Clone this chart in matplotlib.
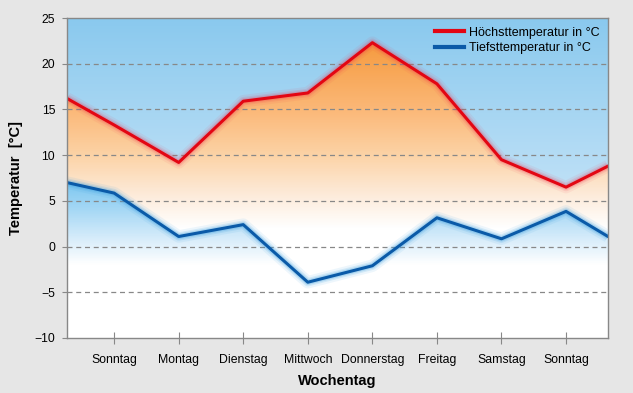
import numpy as np
import matplotlib
matplotlib.use("Agg")
import matplotlib.pyplot as plt
from matplotlib.colors import LinearSegmentedColormap
from matplotlib.patches import Polygon

plt.rcParams['font.family'] = ['Liberation Sans', 'DejaVu Sans']

# Daten
tage = ['Sonntag', 'Montag', 'Dienstag', 'Mittwoch', 'Donnerstag', 'Freitag', 'Samstag', 'Sonntag']
x_pos = [-0.73, 0, 1, 2, 3, 4, 5, 6, 7, 7.65]   # Randpunkte links/rechts abgeschnitten
hoechst = [16.2, 13.3, 9.2, 15.9, 16.8, 22.3, 17.8, 9.5, 6.5, 8.8]
tiefst = [7.0, 5.85, 1.1, 2.4, -3.9, -2.1, 3.15, 0.85, 3.85, 1.1]

xmin, xmax = -0.73, 7.65
ymin, ymax = -10, 25

fig = plt.figure(figsize=(6.33, 3.93), dpi=100, facecolor='#e6e6e6')
ax = fig.add_axes([67 / 633, 55 / 393, 541 / 633, 320 / 393])
ax.set_facecolor('white')


def gradient(ax, unten, oben, stops):
    # vertikaler Farbverlauf, auf Fläche zwischen zwei Kurven zugeschnitten
    verts = list(zip(x_pos, unten)) + list(zip(x_pos[::-1], oben[::-1]))
    poly = Polygon(verts, closed=True, facecolor='none', edgecolor='none',
                   transform=ax.transData)
    ax.add_patch(poly)
    ys = np.linspace(ymin, ymax, 400)
    pos = [(v - ymin) / (ymax - ymin) for v, c in stops]
    cmap = LinearSegmentedColormap.from_list('g', list(zip(pos, [c for v, c in stops])))
    img = ax.imshow(ys[:, None], extent=[xmin, xmax, ymin, ymax], origin='lower',
                    aspect='auto', cmap=cmap, vmin=ymin, vmax=ymax, zorder=1)
    img.set_clip_path(poly)


top = [ymax] * len(x_pos)
bottom = [ymin] * len(x_pos)

gradient(ax, hoechst, top, [(-10, '#c8e5f8'), (5, '#c2e2f7'), (25, '#8ac9ee')])
gradient(ax, tiefst, hoechst, [(-10, '#ffffff'), (2, '#ffffff'), (6, '#fde9d6'), (10, '#fcd3a6'),
                               (15, '#fbb878'), (25, '#f4902a')])
gradient(ax, bottom, tiefst, [(-10, '#ffffff'), (-2, '#ffffff'), (1, '#d4ebfa'), (4, '#a6d8f5'),
                              (8, '#6fc2ef'), (25, '#6fc2ef')])

# Glow
for lw, a in [(9, 0.07), (6, 0.12), (4, 0.18)]:
    ax.plot(x_pos, hoechst, color='#f0304a', lw=lw, alpha=a, zorder=3, solid_capstyle='butt')
    ax.plot(x_pos, tiefst, color='#3a9ee0', lw=lw, alpha=a * 1.3, zorder=3, solid_capstyle='butt')

ax.plot(x_pos, hoechst, color='#e30613', lw=2.2, zorder=4, label='Höchsttemperatur in °C')
ax.plot(x_pos, tiefst, color='#0a5aa8', lw=2.2, zorder=4, label='Tiefsttemperatur in °C')

for y in [-5, 0, 5, 10, 15, 20]:
    ax.axhline(y, color='#888888', lw=0.9, ls=(0, (4, 3)), zorder=2)

ax.set_xlim(xmin, xmax)
ax.set_ylim(ymin, ymax)
ax.set_yticks(range(-10, 26, 5))
ax.set_xticks(range(8))
ax.set_xticklabels(tage)
ax.tick_params(axis='x', direction='inout', length=8, pad=7.5, labelsize=8.8, color='#888888')
ax.tick_params(axis='y', direction='out', length=3.5, pad=5, labelsize=8.8, color='#888888')
for s in ax.spines.values():
    s.set_color('#888888')
    s.set_linewidth(1.0)
    s.set_zorder(5)

ax.set_xlabel('Wochentag', fontsize=10.5, fontweight='bold', labelpad=6)
ax.set_ylabel('Temperatur  [°C]', fontsize=10.5, fontweight='bold', labelpad=8)

leg = ax.legend(loc='upper right', frameon=False, fontsize=9, handlelength=2.3,
                handletextpad=0.4, labelspacing=0.25, borderaxespad=0.3)
for h in leg.get_lines():
    h.set_linewidth(3)

plt.savefig('out.png', dpi=100, facecolor=fig.get_facecolor())
